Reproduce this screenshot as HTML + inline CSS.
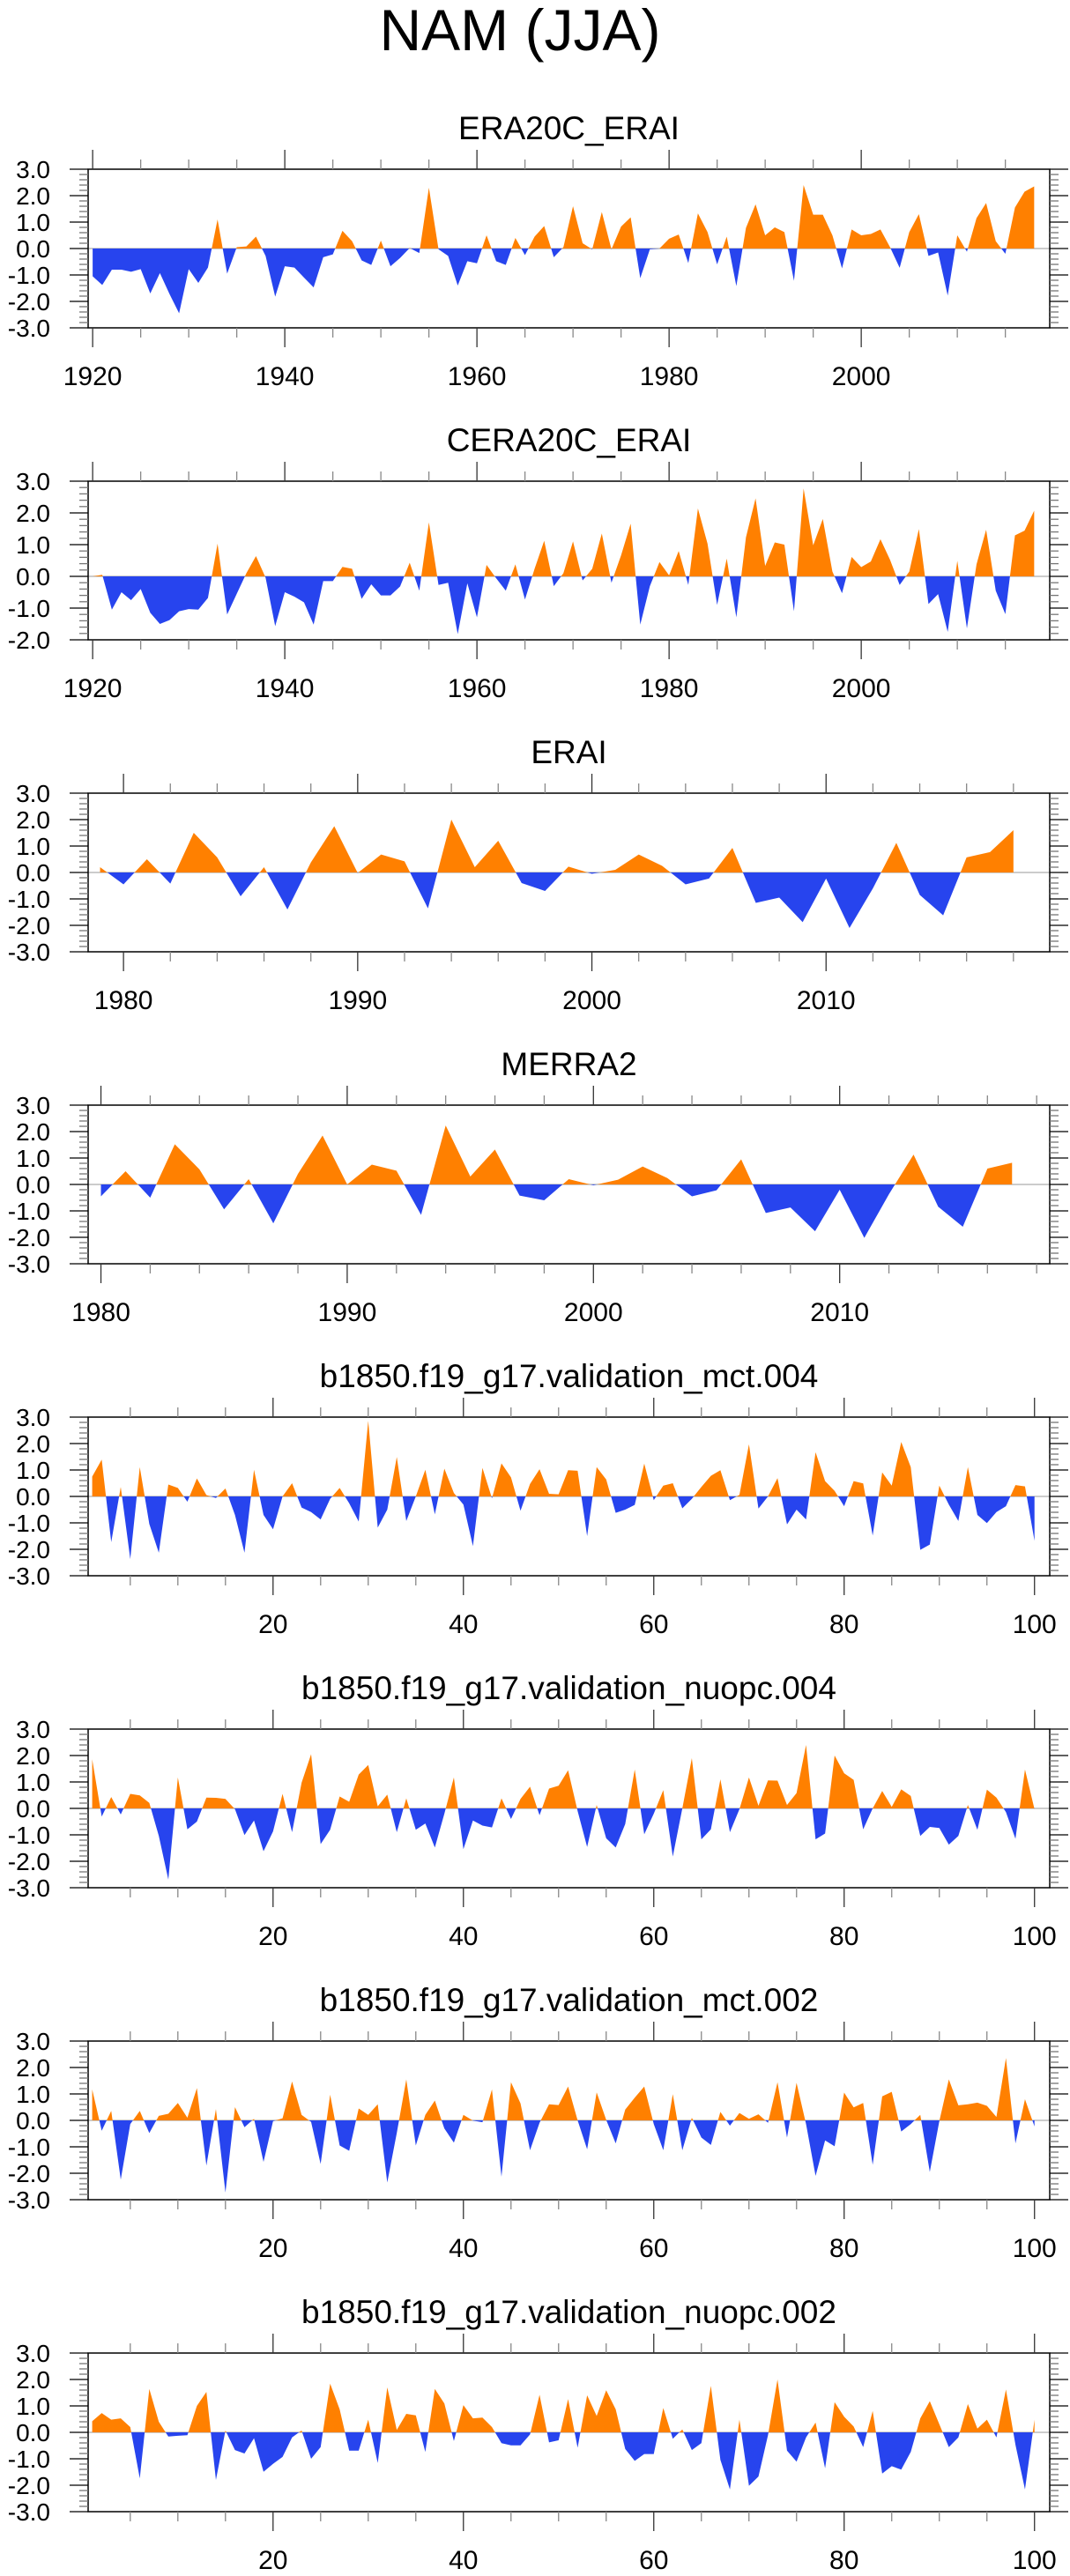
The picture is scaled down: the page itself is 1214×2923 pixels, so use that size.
<!DOCTYPE html>
<html>
<head>
<meta charset="utf-8">
<style>
html,body{margin:0;padding:0;background:#fff;}
svg{display:block;font-family:"Liberation Sans",Arial,sans-serif;}
</style>
</head>
<body>
<svg id="chart" width="1214" height="2923" viewBox="0 0 1214 2923" xmlns="http://www.w3.org/2000/svg">
<text x="590" y="57" font-size="66" text-anchor="middle">NAM (JJA)</text>
</svg>
<script>
// ---- data ----
const era20cStart = 1920;
const era20cValues = [-1.05,-1.38,-0.8,-0.8,-0.88,-0.78,-1.7,-0.93,-1.72,-2.45,
-0.78,-1.3,-0.72,1.1,-0.95,0.05,0.08,0.45,-0.28,-1.82,
-0.67,-0.72,-1.1,-1.47,-0.33,-0.22,0.67,0.28,-0.45,-0.62,
0.3,-0.67,-0.36,0.02,-0.17,2.3,-0.03,-0.28,-1.4,-0.48,
-0.56,0.5,-0.48,-0.62,0.4,-0.25,0.45,0.85,-0.33,0.05,
1.6,0.2,-0.03,1.38,-0.03,0.83,1.18,-1.12,-0.03,0.0,
0.37,0.53,-0.55,1.33,0.62,-0.6,0.45,-1.42,0.78,1.67,
0.5,0.8,0.62,-1.22,2.4,1.28,1.28,0.5,-0.75,0.72,
0.5,0.55,0.72,0.05,-0.73,0.62,1.3,-0.28,-0.15,-1.78,
0.5,-0.12,1.15,1.72,0.28,-0.2,1.55,2.15,2.35];
const cera20cStart = 1920;
const cera20cValues = [0.0,0.05,-1.05,-0.5,-0.75,-0.4,-1.15,-1.5,-1.38,-1.1,
-1.03,-1.05,-0.68,1.03,-1.2,-0.55,0.1,0.64,-0.04,-1.57,
-0.5,-0.64,-0.82,-1.52,-0.15,-0.15,0.3,0.24,-0.71,-0.25,
-0.6,-0.6,-0.32,0.43,-0.45,1.7,-0.27,-0.2,-1.82,-0.22,
-1.29,0.36,-0.06,-0.45,0.38,-0.73,0.24,1.12,-0.31,0.1,
1.1,-0.13,0.24,1.35,-0.2,0.66,1.66,-1.52,-0.31,0.45,
0.03,0.8,-0.27,2.14,1.03,-0.9,0.56,-1.29,1.23,2.46,
0.33,1.07,1.0,-1.1,2.77,0.98,1.81,0.15,-0.53,0.61,
0.29,0.47,1.17,0.52,-0.27,0.15,1.49,-0.87,-0.56,-1.75,
0.49,-1.64,0.38,1.47,-0.45,-1.19,1.29,1.44,2.07];
const eraiStart = 1979;
const eraiValues = [0.2,-0.45,0.5,-0.42,1.5,0.57,-0.9,0.2,-1.4,0.38,
1.75,-0.02,0.68,0.42,-1.36,2.0,0.2,1.2,-0.4,-0.7,
0.22,-0.05,0.1,0.68,0.25,-0.45,-0.23,0.93,-1.15,-0.95,
-1.88,-0.23,-2.1,-0.6,1.12,-0.85,-1.62,0.57,0.77,1.6];
const merra2Start = 1980;
const merra2Values = [-0.45,0.5,-0.5,1.52,0.57,-0.94,0.2,-1.47,0.4,1.85,
0.0,0.75,0.52,-1.15,2.23,0.3,1.32,-0.42,-0.6,0.2,
-0.03,0.18,0.68,0.24,-0.45,-0.22,0.95,-1.08,-0.87,-1.77,
-0.2,-2.02,-0.37,1.13,-0.84,-1.6,0.6,0.82];
const modelStart = 1;
const mct004Values = [0.75,1.39,-1.73,0.36,-2.37,1.11,-1.04,-2.13,0.45,0.32,
-0.2,0.68,0.05,-0.06,0.3,-0.7,-2.13,1.01,-0.7,-1.24,
0.0,0.5,-0.42,-0.59,-0.87,-0.09,0.32,-0.26,-0.95,2.86,
-1.18,-0.5,1.49,-0.93,0.0,1.01,-0.68,1.05,0.13,-0.31,
-1.88,1.08,-0.07,1.25,0.72,-0.54,0.47,1.03,0.1,0.08,
0.99,0.97,-1.5,1.11,0.64,-0.62,-0.5,-0.32,1.24,-0.14,
0.41,0.5,-0.45,-0.09,0.36,0.78,0.99,-0.14,0.06,1.97,
-0.46,0.0,0.69,-1.06,-0.5,-0.87,1.67,0.58,0.21,-0.37,
0.58,0.49,-1.48,0.91,0.41,2.06,1.11,-2.02,-1.82,0.41,
-0.31,-0.93,1.11,-0.7,-1.01,-0.59,-0.37,0.43,0.38,-1.68];
const nuopc004Values = [1.86,-0.31,0.43,-0.23,0.55,0.49,0.21,-1.04,-2.69,1.17,
-0.79,-0.5,0.41,0.4,0.36,-0.03,-1.01,-0.46,-1.62,-0.87,
0.55,-0.9,0.97,2.05,-1.35,-0.81,0.45,0.25,1.28,1.64,
0.08,0.52,-0.9,0.38,-0.81,-0.57,-1.48,-0.2,1.17,-1.54,
-0.46,-0.65,-0.72,0.38,-0.4,0.36,0.82,-0.26,0.75,0.86,
1.44,-0.1,-1.46,0.13,-1.13,-1.48,-0.59,1.47,-0.98,-0.2,
0.69,-1.82,0.0,1.9,-1.17,-0.79,1.1,-0.9,-0.03,1.17,
0.1,1.06,1.05,0.13,0.58,2.4,-1.17,-0.95,2.0,1.33,
1.08,-0.79,0.0,0.66,0.06,0.72,0.47,-1.04,-0.7,-0.74,
-1.37,-1.04,0.13,-0.81,0.71,0.41,-0.14,-1.15,1.47,-0.03];
const mct002Values = [1.17,-0.39,0.36,-2.24,-0.14,0.36,-0.48,0.17,0.25,0.66,
0.1,1.22,-1.71,0.43,-2.73,0.5,-0.26,0.06,-1.57,-0.03,
0.08,1.47,0.21,-0.06,-1.65,0.97,-0.95,-1.15,0.45,0.21,
0.61,-2.35,-0.48,1.55,-0.95,0.21,0.75,-0.31,-0.84,0.21,
-0.01,-0.07,1.17,-2.13,1.44,0.64,-1.13,-0.09,0.61,0.58,
1.28,0.0,-1.09,1.06,0.02,-0.87,0.41,0.86,1.28,-0.14,
-1.13,0.99,-1.13,0.1,-0.65,-0.93,0.32,-0.2,0.28,0.06,
0.23,-0.09,1.44,-0.65,1.42,-0.14,-2.1,-0.76,-0.98,1.05,
0.49,0.66,-1.68,0.91,1.08,-0.42,-0.14,0.21,-1.95,-0.03,
1.55,0.57,0.61,0.67,0.55,0.13,2.36,-0.87,0.8,-0.23];
const nuopc002Values = [0.42,0.73,0.48,0.53,0.2,-1.74,1.64,0.4,-0.16,-0.13,
-0.11,1.0,1.53,-1.8,0.07,-0.67,-0.8,-0.22,-1.49,-1.19,
-0.93,-0.19,0.07,-1.0,-0.56,1.84,0.87,-0.69,-0.69,0.48,
-1.16,1.7,0.09,0.7,0.64,-0.74,1.64,1.09,-0.33,1.03,
0.53,0.56,0.2,-0.41,-0.49,-0.49,-0.08,1.42,-0.38,-0.3,
1.26,-0.58,1.4,0.62,1.59,0.87,-0.63,-1.08,-0.82,-0.82,
0.92,-0.24,0.11,-0.67,-0.41,1.76,-1.04,-2.16,0.48,-2.02,
-1.67,-0.11,2.0,-0.69,-1.11,-0.19,0.37,-1.36,1.14,0.59,
0.22,-0.56,0.81,-1.56,-1.28,-1.41,-0.74,0.53,1.18,0.31,
-0.56,-0.19,1.07,0.14,0.48,-0.19,1.62,-0.47,-2.16,0.48];

const panelTitles = ["ERA20C_ERAI","CERA20C_ERAI","ERAI","MERRA2",
  "b1850.f19_g17.validation_mct.004","b1850.f19_g17.validation_nuopc.004",
  "b1850.f19_g17.validation_mct.002","b1850.f19_g17.validation_nuopc.002"];
const centuryXLabels = [1920,1940,1960,1980,2000];
const eraiXLabels = [1980,1990,2000,2010];
const modelXLabels = [20,40,60,80,100];
const yLabelsFull = [3,2,1,0,-1,-2,-3];
const yLabelsCera = [3,2,1,0,-1,-2];

// ---- layout ----
const NS = "http://www.w3.org/2000/svg";
const svg = document.getElementById('chart');
const BOX_L = 100, BOX_R = 1191, BOX_H = 180, TOP0 = 192, STEP = 354;
const ORANGE = "#FF8000", BLUE = "#2744EE";

function el(tag, attrs, parent){
  const e = document.createElementNS(NS, tag);
  for (const k in attrs) e.setAttribute(k, attrs[k]);
  (parent||svg).appendChild(e);
  return e;
}

const panels = [
  {values: era20cValues, start: era20cStart, xmin:1919.53, xmax:2019.62, ymin:-3, ymax:3, labels:centuryXLabels, major:20, minor:5, minorFrom:1920, minorTo:2015, ylabels:yLabelsFull, name:'era20c-erai'},
  {values: cera20cValues, start: cera20cStart, xmin:1919.53, xmax:2019.62, ymin:-2, ymax:3, labels:centuryXLabels, major:20, minor:5, minorFrom:1920, minorTo:2015, ylabels:yLabelsCera, name:'cera20c-erai'},
  {values: eraiValues, start: eraiStart, xmin:1978.49, xmax:2019.55, ymin:-3, ymax:3, labels:eraiXLabels, major:10, minor:2, minorFrom:1980, minorTo:2018, ylabels:yLabelsFull, name:'erai'},
  {values: merra2Values, start: merra2Start, xmin:1979.48, xmax:2018.53, ymin:-3, ymax:3, labels:eraiXLabels, major:10, minor:2, minorFrom:1980, minorTo:2018, ylabels:yLabelsFull, name:'merra2'},
  {values: mct004Values, start: modelStart, xmin:0.574, xmax:101.6, ymin:-3, ymax:3, labels:modelXLabels, major:20, minor:5, minorFrom:5, minorTo:100, ylabels:yLabelsFull, name:'mct-004'},
  {values: nuopc004Values, start: modelStart, xmin:0.574, xmax:101.6, ymin:-3, ymax:3, labels:modelXLabels, major:20, minor:5, minorFrom:5, minorTo:100, ylabels:yLabelsFull, name:'nuopc-004'},
  {values: mct002Values, start: modelStart, xmin:0.574, xmax:101.6, ymin:-3, ymax:3, labels:modelXLabels, major:20, minor:5, minorFrom:5, minorTo:100, ylabels:yLabelsFull, name:'mct-002'},
  {values: nuopc002Values, start: modelStart, xmin:0.574, xmax:101.6, ymin:-3, ymax:3, labels:modelXLabels, major:20, minor:5, minorFrom:5, minorTo:100, ylabels:yLabelsFull, name:'nuopc-002'}
];

panels.forEach((p, i) => {
  const T = TOP0 + STEP*i, B = T + BOX_H;
  const xs = v => BOX_L + (v - p.xmin) / (p.xmax - p.xmin) * (BOX_R - BOX_L);
  const ys = v => T + (p.ymax - v) / (p.ymax - p.ymin) * BOX_H;
  const g = el('g', {});
  
  

  const title = el('text', {x:(BOX_L+BOX_R)/2, y:T-34, 'font-size':37, 'text-anchor':'middle'}, g);
  
  
  title.textContent = panelTitles[i];

  // clip paths
  const defs = el('defs', {}, g);
  const cpA = el('clipPath', {id:'above'+i}, defs);
  el('rect', {x:BOX_L, y:T, width:BOX_R-BOX_L, height:ys(0)-T}, cpA);
  const cpB = el('clipPath', {id:'below'+i}, defs);
  el('rect', {x:BOX_L, y:ys(0), width:BOX_R-BOX_L, height:B-ys(0)}, cpB);

  // zero line
  const zl = el('line', {x1:BOX_L, x2:BOX_R, y1:ys(0), y2:ys(0), stroke:'#bbbbbb', 'stroke-width':1.5}, g);
  
  

  // area
  let d = '';
  p.values.forEach((v, k) => {
    d += (k===0?'M':'L') + xs(p.start+k).toFixed(2) + ',' + ys(v).toFixed(2) + ' ';
  });
  const xEnd = xs(p.start + p.values.length - 1), xBeg = xs(p.start);
  d += 'L' + xEnd.toFixed(2) + ',' + ys(0).toFixed(2) + ' L' + xBeg.toFixed(2) + ',' + ys(0).toFixed(2) + ' Z';
  const pos = el('path', {d:d, fill:ORANGE, 'clip-path':'url(#above'+i+')'}, g);
  
  
  const neg = el('path', {d:d, fill:BLUE, 'clip-path':'url(#below'+i+')'}, g);
  
  

  // box
  const box = el('rect', {x:BOX_L, y:T, width:BOX_R-BOX_L, height:BOX_H, fill:'none', stroke:'#000', 'stroke-width':1.5}, g);
  
  

  // y ticks
  const yt = el('g', {}, g);
  
  
  for (let k = Math.round(p.ymin*5); k <= Math.round(p.ymax*5); k++) {
    const v = k/5, y = ys(v), major = (k % 5 === 0);
    const len = major ? 21 : 10;
    const col = major ? '#000' : '#777';
    el('line', {x1:BOX_L-len, x2:BOX_L, y1:y, y2:y, stroke:col, 'stroke-width':1.3}, yt);
    el('line', {x1:BOX_R, x2:BOX_R+len, y1:y, y2:y, stroke:col, 'stroke-width':1.3}, yt);
  }
  p.ylabels.forEach(v => {
    const t = el('text', {x:57, y:ys(v)+10, 'font-size':28, 'text-anchor':'end'}, yt);
    
    
    t.textContent = v.toFixed(1);
  });

  // x ticks
  const xt = el('g', {}, g);
  
  
  for (let v = p.minorFrom; v <= p.minorTo; v += p.minor) {
    const x = xs(v), major = (v % p.major === 0);
    const len = major ? 22 : 11;
    const col = major ? '#333' : '#888';
    el('line', {x1:x, x2:x, y1:T-len, y2:T, stroke:col, 'stroke-width':1.3}, xt);
    el('line', {x1:x, x2:x, y1:B, y2:B+len, stroke:col, 'stroke-width':1.3}, xt);
  }
  p.labels.forEach(v => {
    const t = el('text', {x:xs(v), y:B+65, 'font-size':30, 'text-anchor':'middle'}, xt);
    
    
    t.textContent = String(v);
  });
});
</script>
</body>
</html>
